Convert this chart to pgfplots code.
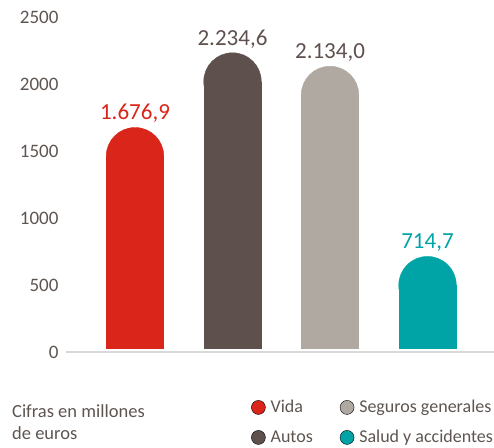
\documentclass[border=0pt]{standalone}
\usepackage{fontspec}
\setmainfont{Carlito}
\usepackage{pgfplots}
\usepackage{pgfplotstable}
\pgfplotsset{compat=1.18}

\definecolor{cvida}{HTML}{D9251A}
\definecolor{cautos}{HTML}{5E514D}
\definecolor{cseguros}{HTML}{AFA9A2}
\definecolor{csalud}{HTML}{00A3A6}
\definecolor{textgray}{HTML}{5E5550}
\definecolor{basegray}{HTML}{D9D9D9}

% bar values, millions of euros
\pgfplotstableread{
x v
0 1676.9
}\vida
\pgfplotstableread{
x v
1 2234.6
}\autos
\pgfplotstableread{
x v
2 2134.0
}\seguros
\pgfplotstableread{
x v
3 714.7
}\salud

% radius of the round top in data units (29pt / 0.134pt)
\def\rtop{216.4}

\pgfplotsset{
  roundbar/.style={ybar, bar width=58pt, fill=#1, draw=none, forget plot},
  roundtop/.style={only marks, color=#1, mark=*, mark size=28.8pt,
    mark options={draw=#1, fill=#1, line width=0.4pt}, forget plot,
    point meta=explicit,
    nodes near coords,
    every node near coord/.append style={anchor=south, yshift=30pt,
      font=\fontsize{23}{23}\selectfont,
      /pgf/number format/fixed, /pgf/number format/fixed zerofill,
      /pgf/number format/precision=1, /pgf/number format/use comma,
      /pgf/number format/1000 sep={.}}},
}

\begin{document}
\begin{tikzpicture}
\begin{axis}[
  x=97.5pt, y=0.134pt,
  xmin=-0.708, xmax=3.68, ymin=0, ymax=2500,
  axis line style={draw=none},
  xtick=\empty, ytick={0,500,...,2500},
  major tick length=0pt,
  yticklabel style={font=\fontsize{19}{19}\selectfont, text=textgray, xshift=-4pt},
  /pgf/number format/assume math mode=true,
  /pgf/number format/1000 sep={},
  clip=false,
  legend columns=2,
  legend cell align=left,
  legend image code/.code={\fill[#1] (0pt,0pt) circle (7pt);},
  legend style={at={(0.4325,-0.138)}, anchor=north west, draw=none, fill=none,
    font=\fontsize{18}{18}\selectfont, text=textgray, inner sep=0pt,
    row sep=12pt, /tikz/every odd column/.append style={column sep=3pt},
    /tikz/every even column/.append style={column sep=25pt}},
]
\coordinate (O) at (axis cs:0,0);

\addplot[roundbar=cvida] table[x=x, y expr=\thisrow{v}-\rtop] {\vida};
\addplot[roundbar=cautos] table[x=x, y expr=\thisrow{v}-\rtop] {\autos};
\addplot[roundbar=cseguros] table[x=x, y expr=\thisrow{v}-\rtop] {\seguros};
\addplot[roundbar=csalud] table[x=x, y expr=\thisrow{v}-\rtop] {\salud};

\addplot[roundtop=cvida, every node near coord/.append style={text=cvida}]
  table[x=x, y expr=\thisrow{v}-\rtop, meta=v] {\vida};
\addplot[roundtop=cautos, every node near coord/.append style={text=cautos}]
  table[x=x, y expr=\thisrow{v}-\rtop, meta=v] {\autos};
\addplot[roundtop=cseguros, every node near coord/.append style={text=cautos}]
  table[x=x, y expr=\thisrow{v}-\rtop, meta=v] {\seguros};
\addplot[roundtop=csalud, every node near coord/.append style={text=csalud}]
  table[x=x, y expr=\thisrow{v}-\rtop, meta=v] {\salud};

% small gap under the bars, then the base line
\addplot[draw=white, line width=3pt, forget plot] coordinates {(-0.708,11) (3.68,11)};
\addplot[draw=basegray, line width=2.5pt, forget plot] coordinates {(-0.708,0) (3.68,0)};

\addlegendimage{fill=cvida}\addlegendentry{Vida}
\addlegendimage{fill=cseguros}\addlegendentry{Seguros generales}
\addlegendimage{fill=cautos}\addlegendentry{Autos}
\addlegendimage{fill=csalud}\addlegendentry{Salud y accidentes}

\node[anchor=north west, align=left, font=\fontsize{18.5}{22}\selectfont,
  text=textgray, inner sep=0pt] at (axis cs:-1.262,-392)
  {Cifras en millones\\de euros};
\end{axis}
\pgfresetboundingbox
\path[use as bounding box] (O) ++(-135pt,-95pt) rectangle ++(494pt,447pt);
\end{tikzpicture}
\end{document}
